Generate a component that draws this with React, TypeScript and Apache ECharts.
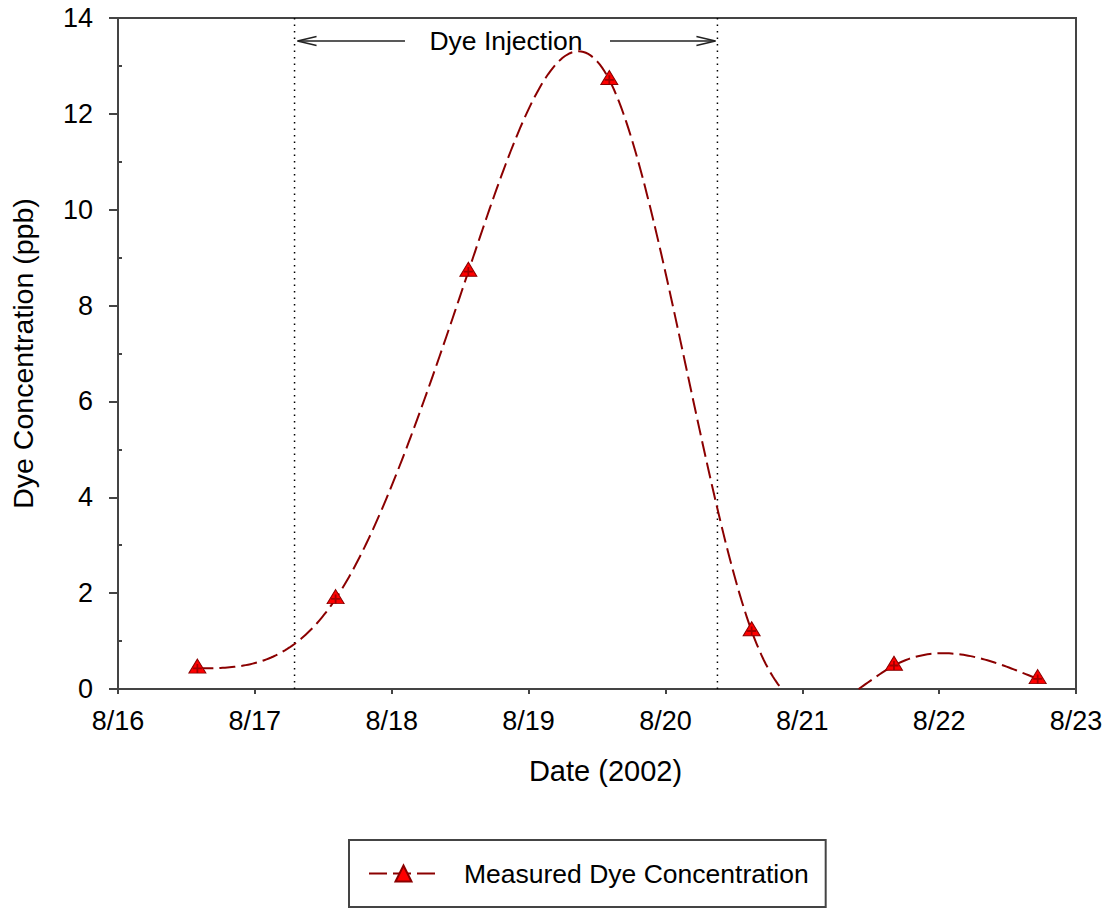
import React, { useEffect, useRef } from 'react';
import * as echarts from 'echarts';

// ---- data (day of August 2002, ppb) ----
const sampleDays = [16.58, 17.59, 18.56, 19.59, 20.63, 21.67, 22.72];
const concentrations = [0.43, 1.88, 8.71, 12.71, 1.21, 0.49, 0.21];
const dayTicks = [16, 17, 18, 19, 20, 21, 22, 23];
const injectionStart = 17.29;
const injectionEnd = 20.38;
const annotationLevel = 13.52;
const seriesName = 'Measured Dye Concentration';
const annotationText = 'Dye Injection';
const xName = 'Date (2002)';
const yName = 'Dye Concentration (ppb)';

const FONT = '"Liberation Sans", Arial, Helvetica, sans-serif';
const DARK_RED = '#8b0000';
const AXIS = '#444444';

// natural cubic spline second derivatives
function splineM(xs: number[], ys: number[]) {
  const n = xs.length;
  const h: number[] = [];
  for (let i = 0; i < n - 1; i++) h.push(xs[i + 1] - xs[i]);
  const M = new Array(n).fill(0);
  const m = n - 2;
  if (m <= 0) return { h, M };
  const a: number[] = [], b: number[] = [], c: number[] = [], d: number[] = [];
  for (let i = 1; i <= m; i++) {
    a.push(h[i - 1]);
    b.push(2 * (h[i - 1] + h[i]));
    c.push(h[i]);
    d.push(6 * ((ys[i + 1] - ys[i]) / h[i] - (ys[i] - ys[i - 1]) / h[i - 1]));
  }
  for (let i = 1; i < m; i++) {
    const w = a[i] / b[i - 1];
    b[i] -= w * c[i - 1];
    d[i] -= w * d[i - 1];
  }
  const sol = new Array(m).fill(0);
  sol[m - 1] = d[m - 1] / b[m - 1];
  for (let i = m - 2; i >= 0; i--) sol[i] = (d[i] - c[i] * sol[i + 1]) / b[i];
  for (let i = 0; i < m; i++) M[i + 1] = sol[i];
  return { h, M };
}

function evalSpline(xs: number[], ys: number[], h: number[], M: number[], i: number, x: number) {
  const hi = h[i];
  const A = xs[i + 1] - x;
  const B = x - xs[i];
  return (
    (M[i] * A * A * A) / (6 * hi) +
    (M[i + 1] * B * B * B) / (6 * hi) +
    (ys[i] / hi - (M[i] * hi) / 6) * A +
    (ys[i + 1] / hi - (M[i + 1] * hi) / 6) * B
  );
}

export default function App() {
  const ref = useRef<HTMLDivElement>(null);

  useEffect(() => {
    if (!ref.current) return;
    const chart = echarts.init(ref.current, undefined, { renderer: 'svg' });
    const points = sampleDays.map((d, i) => [d, concentrations[i]]);
    const { h, M } = splineM(sampleDays, concentrations);

    const curveRender = (params: any, api: any) => {
      if (params.dataIndex !== 0) return { type: 'group', children: [] };
      const samples: number[][] = [];
      const N = 60;
      for (let i = 0; i < sampleDays.length - 1; i++) {
        for (let k = 0; k < N; k++) {
          const x = sampleDays[i] + (h[i] * k) / N;
          samples.push([x, evalSpline(sampleDays, concentrations, h, M, i, x)]);
        }
      }
      samples.push([sampleDays[sampleDays.length - 1], concentrations[concentrations.length - 1]]);
      const runs: number[][][] = [];
      let cur: number[][] = [];
      for (let j = 0; j < samples.length; j++) {
        const p = samples[j];
        if (p[1] >= 0) {
          if (cur.length === 0 && j > 0 && samples[j - 1][1] < 0) {
            const q = samples[j - 1];
            const t = q[1] / (q[1] - p[1]);
            cur.push([q[0] + t * (p[0] - q[0]), 0]);
          }
          cur.push(p);
        } else if (cur.length) {
          const q = samples[j - 1];
          const t = q[1] / (q[1] - p[1]);
          cur.push([q[0] + t * (p[0] - q[0]), 0]);
          runs.push(cur);
          cur = [];
        }
      }
      if (cur.length) runs.push(cur);
      return {
        type: 'group',
        children: runs.map((r) => ({
          type: 'polyline',
          shape: { points: r.map((p) => api.coord(p)) },
          style: { stroke: DARK_RED, lineWidth: 2, lineDash: [16, 6], fill: 'none' },
        })),
      };
    };

    const annotationRender = (params: any, api: any) => {
      const x1 = api.value(0);
      const x2 = api.value(1);
      const yv = api.value(2);
      const top1 = api.coord([x1, 14]);
      const bot1 = api.coord([x1, 0]);
      const top2 = api.coord([x2, 14]);
      const bot2 = api.coord([x2, 0]);
      const p1 = api.coord([x1, yv]);
      const p2 = api.coord([x2, yv]);
      const y = p1[1];
      const left = p1[0] + 3;
      const right = p2[0] - 2;
      const mid = (p1[0] + p2[0]) / 2;
      const dotted = { stroke: '#000', lineWidth: 1.5, lineDash: [1.5, 5] };
      const solid = { stroke: '#222', lineWidth: 1.5, fill: 'none' };
      return {
        type: 'group',
        children: [
          { type: 'line', shape: { x1: top1[0], y1: top1[1], x2: bot1[0], y2: bot1[1] }, style: dotted },
          { type: 'line', shape: { x1: top2[0], y1: top2[1], x2: bot2[0], y2: bot2[1] }, style: dotted },
          { type: 'line', shape: { x1: left, y1: y, x2: mid - 101, y2: y }, style: solid },
          { type: 'line', shape: { x1: mid + 104, y1: y, x2: right, y2: y }, style: solid },
          { type: 'polyline', shape: { points: [[left + 19, y - 4.5], [left, y], [left + 19, y + 4.5]] }, style: solid },
          { type: 'polyline', shape: { points: [[right - 19, y - 4.5], [right, y], [right - 19, y + 4.5]] }, style: solid },
          {
            type: 'text',
            x: mid,
            y: y,
            style: {
              text: annotationText,
              fill: '#000',
              fontSize: 26.5,
              fontFamily: FONT,
              align: 'center',
              verticalAlign: 'middle',
            },
          },
        ],
      };
    };

    const option: any = {
      animation: false,
      backgroundColor: '#fff',
      textStyle: { fontFamily: FONT },
      grid: {
        left: 117,
        right: 34,
        top: 18,
        bottom: 220,
        show: true,
        borderColor: AXIS,
        borderWidth: 2,
        backgroundColor: 'transparent',
      },
      legend: {
        data: [
          {
            name: seriesName,
            lineStyle: { opacity: 1, width: 2, color: DARK_RED, type: [18, 6] },
          },
        ],
        left: 349,
        top: 840,
        orient: 'horizontal',
        itemWidth: 69,
        itemHeight: 20,
        padding: [20, 17, 20, 19],
        borderColor: AXIS,
        borderWidth: 2,
        selectedMode: false,
        textStyle: { fontSize: 26.5, color: '#000', fontFamily: FONT, padding: [0, 0, 0, 21] },
      },
      xAxis: {
        type: 'value',
        min: dayTicks[0],
        max: dayTicks[dayTicks.length - 1],
        interval: 1,
        name: xName,
        nameLocation: 'middle',
        nameGap: 67,
        nameTextStyle: { fontSize: 29, color: '#000', fontFamily: FONT, padding: [0, 0, 0, 17] },
        axisLine: { show: true, lineStyle: { color: AXIS, width: 2 } },
        axisTick: { show: true, length: 5, lineStyle: { color: AXIS, width: 2 } },
        axisLabel: {
          fontSize: 27,
          color: '#000',
          margin: 18,
          fontFamily: FONT,
          formatter: (v: number) => (dayTicks.indexOf(v) >= 0 ? '8/' + v : ''),
        },
        splitLine: { show: false },
      },
      yAxis: [
        {
          type: 'value',
          position: 'left',
          min: 0,
          max: 14,
          interval: 2,
          name: yName,
          nameLocation: 'middle',
          nameGap: 81,
          nameTextStyle: { fontSize: 28.5, color: '#000', fontFamily: FONT },
          axisLine: { show: true, lineStyle: { color: AXIS, width: 2 } },
          axisTick: { show: true, length: 9, lineStyle: { color: AXIS, width: 2 } },
          axisLabel: { fontSize: 27, color: '#000', margin: 25, fontFamily: FONT },
          splitLine: { show: false },
        },
        {
          type: 'value',
          position: 'left',
          min: 0,
          max: 14,
          interval: 2,
          axisLine: { show: false },
          axisTick: { show: false, inside: true },
          axisLabel: { show: false },
          splitLine: { show: false },
          minorTick: { show: true, splitNumber: 2, length: 4, lineStyle: { color: AXIS, width: 2 } },
          minorSplitLine: { show: false },
        },
      ],
      series: [
        {
          type: 'custom',
          name: 'annotation',
          data: [[injectionStart, injectionEnd, annotationLevel]],
          encode: { x: [0, 1], y: 2 },
          renderItem: annotationRender,
          silent: true,
          z: 1,
        },
        {
          type: 'custom',
          name: 'curve',
          data: points,
          renderItem: curveRender,
          silent: true,
          z: 2,
        },
        {
          type: 'line',
          name: seriesName,
          data: points,
          symbol: 'triangle',
          symbolSize: [17, 14],
          symbolOffset: [0, -2.3],
          showSymbol: true,
          showAllSymbol: true,
          itemStyle: { color: '#ff0000', borderColor: DARK_RED, borderWidth: 1 },
          lineStyle: { color: DARK_RED, width: 2, opacity: 0 },
          silent: true,
          z: 3,
        },
        {
          type: 'scatter',
          name: 'marker-cross',
          data: points,
          symbol: 'path://M4,0 H6 V4 H10 V6 H6 V10 H4 V6 H0 V4 H4 Z',
          symbolSize: 9,
          itemStyle: { color: DARK_RED },
          silent: true,
          z: 4,
        },
      ],
    };

    chart.setOption(option);
    return () => chart.dispose();
  }, []);

  return (
    <div
      ref={ref}
      style={{ position: 'fixed', left: 0, top: 0, width: 1110, height: 909, background: '#fff' }}
    />
  );
}
